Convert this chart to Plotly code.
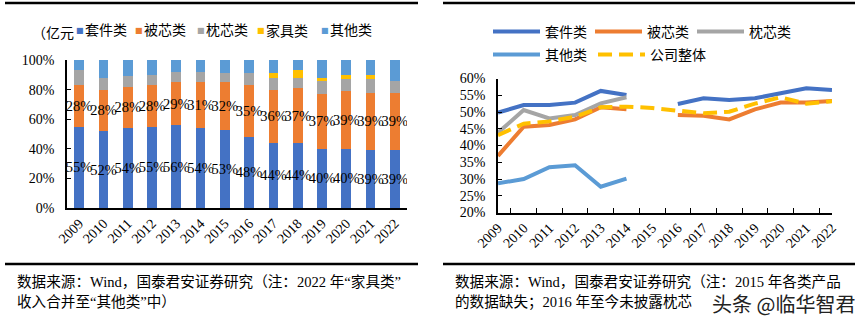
import plotly.graph_objects as go

W, H = 863, 324

years = [str(y) for y in range(2009, 2023)]

# 收入结构（%）
share_suite = [55, 52, 54, 55, 56, 54, 53, 48, 44, 44, 40, 40, 39, 39]
share_quilt = [28, 28, 28, 28, 29, 31, 32, 35, 36, 37, 37, 39, 39, 39]
share_pillow = [10, 8, 7, 7, 7, 7, 6, 8, 8, 7, 9, 8, 9, 8]
share_furniture = [None, None, None, None, None, None, None, None, 3, 5, 2, 3, 3, None]
share_other = [7, 12, 11, 10, 8, 8, 9, 9, 9, 7, 12, 10, 10, 14]

# 毛利率（%），2015 年缺失
margin_suite = [49.8, 52.1, 52.1, 52.8, 56.3, 55.1, None, 52.4, 54.1, 53.6, 54.1, 55.6, 57.1, 56.6]
margin_quilt = [36.9, 45.6, 46.1, 47.8, 51.4, 50.8, None, 49.1, 48.9, 47.8, 50.8, 52.8, 52.8, 53.3]
margin_pillow = [43.8, 50.6, 48.1, 49.1, 52.6, 54.4, None, None, None, None, None, None, None, None]
margin_other = [28.7, 30.0, 33.5, 34.1, 27.7, 30.1, None, None, None, None, None, None, None, None]
margin_overall = [43.1, 46.5, 47.2, 48.6, 51.4, 51.6, 51.2, 50.4, 49.6, 50.1, 52.5, 54.4, 52.5, 53.2]

names = ["套件类", "被芯类", "枕芯类", "家具类", "其他类"]
colors = ["#4472C4", "#ED7D31", "#A5A5A5", "#FFC000", "#5B9BD5"]

FONT = "Liberation Serif, Noto Sans CJK SC, serif"


def px(x):
    return x / W


def py(y):
    return 1 - y / H


fig = go.Figure()

# 左图：堆积柱
shares = [share_suite, share_quilt, share_pillow, share_furniture, share_other]
for i, (name, vals, col) in enumerate(zip(names, shares, colors)):
    labelled = i < 2
    fig.add_trace(go.Bar(
        x=years, y=vals, name=name, marker_color=col, marker_line_width=0,
        xaxis="x", yaxis="y", showlegend=False,
        text=[f"{v}%" for v in vals] if labelled else None,
        textposition="inside" if labelled else "none",
        insidetextanchor="middle", textangle=0, constraintext="none",
        textfont=dict(family=FONT, size=14.5, color="black"),
        hoverinfo="skip",
    ))

# 右图：毛利率折线（图例分三组排布）
line_specs = [
    ("套件类", margin_suite, colors[0], "solid", "legend2"),
    ("被芯类", margin_quilt, colors[1], "solid", "legend2"),
    ("枕芯类", margin_pillow, colors[2], "solid", "legend2"),
    ("其他类", margin_other, colors[4], "solid", "legend3"),
    ("公司整体", margin_overall, colors[3], "14px,7px", "legend4"),
]
for name, vals, col, dash, lg in line_specs:
    fig.add_trace(go.Scatter(
        x=years, y=vals, name=name, mode="lines",
        line=dict(color=col, width=4, dash=dash),
        connectgaps=False, xaxis="x2", yaxis="y2", legend=lg,
        hoverinfo="skip",
    ))

axis_font = dict(family=FONT, size=14, color="black")

shapes = []
for x0, x1 in [(5, 418), (443, 855)]:
    for yy in (3, 264):
        shapes.append(dict(type="line", xref="paper", yref="paper",
                           x0=px(x0), x1=px(x1), y0=py(yy), y1=py(yy),
                           line=dict(color="black", width=2.5)))

annotations = []
# 左图图例
annotations.append(dict(text="（亿元", x=px(30), y=py(33), xref="paper", yref="paper",
                        xanchor="left", yanchor="middle", showarrow=False,
                        font=dict(family=FONT, size=14, color="black")))
leg_marker_x = [80, 139, 201, 261, 325]
for name, col, mx in zip(names, colors, leg_marker_x):
    annotations.append(dict(text="■", x=px(mx), y=py(31), xref="paper", yref="paper",
                            xanchor="center", yanchor="middle", showarrow=False,
                            font=dict(family="DejaVu Sans", size=8, color=col)))
    annotations.append(dict(text=name, x=px(mx + 3), y=py(31), xref="paper", yref="paper",
                            xanchor="left", yanchor="middle", showarrow=False,
                            font=dict(family=FONT, size=14, color="black")))

# 数据来源
notes = [
    (15, 282, "数据来源：Wind，国泰君安证券研究（注：2022 年“家具类”"),
    (15, 302, "收入合并至“其他类”中）"),
    (453, 282, "数据来源：Wind，国泰君安证券研究（注：2015 年各类产品"),
    (453, 302, "的数据缺失；2016 年至今未披露枕芯"),
]
for x, y, t in notes:
    annotations.append(dict(text=t, x=px(x), y=py(y), xref="paper", yref="paper",
                            xanchor="left", yanchor="middle", showarrow=False,
                            font=dict(family=FONT, size=14.6, color="black")))
annotations.append(dict(text="头条 @临华智君", x=px(857), y=py(303), xref="paper", yref="paper",
                        xanchor="right", yanchor="middle", showarrow=False,
                        font=dict(family="Noto Sans CJK SC", size=20, color="#222")))

legend_common = dict(orientation="h", xref="paper", yref="paper",
                     xanchor="left", yanchor="middle", bgcolor="rgba(0,0,0,0)",
                     font=dict(family=FONT, size=14, color="black"),
                     itemwidth=47, itemclick=False, itemdoubleclick=False)

fig.update_layout(
    width=W, height=H,
    margin=dict(l=0, r=0, t=0, b=0, autoexpand=False),
    paper_bgcolor="white", plot_bgcolor="white",
    barmode="stack", bargap=0.6,
    showlegend=True,
    legend2=dict(x=px(488), y=py(32), entrywidth=40, entrywidthmode="pixels",
                 **legend_common),
    legend3=dict(x=px(488), y=py(55), **legend_common),
    legend4=dict(x=px(593), y=py(55), **legend_common),
    xaxis=dict(domain=[px(67), px(407)], type="category", showline=True,
               linecolor="black", linewidth=1.5, ticks="", tickangle=-45,
               tickfont=axis_font, showgrid=False, zeroline=False, anchor="y",
               automargin=False),
    yaxis=dict(domain=[py(208), py(60)], range=[0, 100], dtick=20, ticksuffix="%",
               showline=True, linecolor="black", linewidth=1.5, ticks="inside",
               ticklen=4, tickcolor="black", tickfont=axis_font, showgrid=False,
               zeroline=False, ticklabelstandoff=8, anchor="x", automargin=False),
    xaxis2=dict(domain=[px(498), px(832)], type="category", showline=True,
                linecolor="black", linewidth=1.5, ticks="inside", ticklen=5,
                tickcolor="black", tickson="boundaries", tickangle=-45,
                tickfont=axis_font, showgrid=False, zeroline=False, anchor="y2",
                automargin=False),
    yaxis2=dict(domain=[py(212.5), py(78.5)], range=[20, 60], dtick=5, ticksuffix="%",
                showline=True, linecolor="black", linewidth=1.5, ticks="inside",
                ticklen=4, tickcolor="black", tickfont=axis_font, showgrid=False,
                zeroline=False, ticklabelstandoff=8, anchor="x2", automargin=False),
    shapes=shapes,
    annotations=annotations,
)

fig.write_html("out.html")
